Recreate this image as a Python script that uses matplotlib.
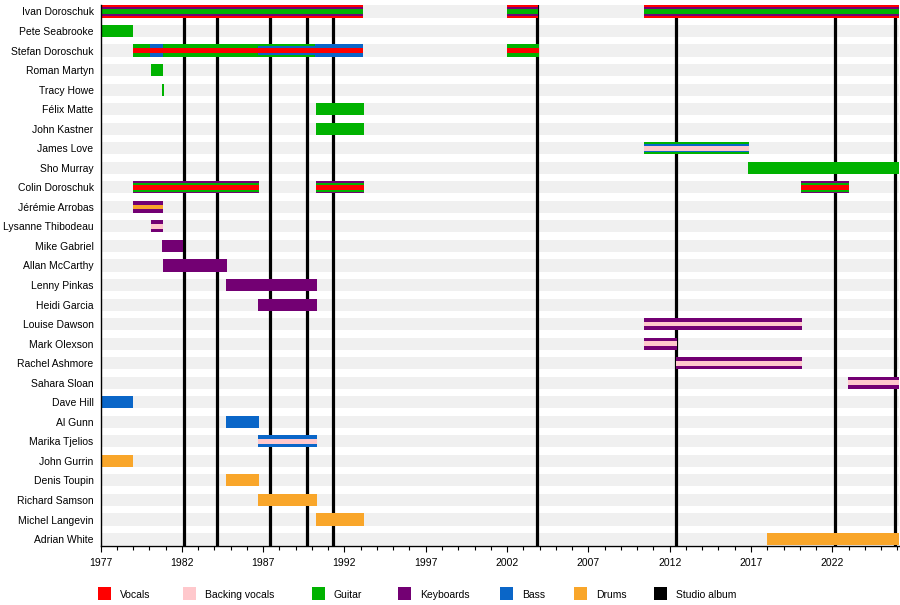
import matplotlib
matplotlib.use("Agg")
import matplotlib.pyplot as plt
from matplotlib.patches import Rectangle

plt.rcParams['font.family'] = ['Liberation Sans', 'DejaVu Sans']

members = ["Ivan Doroschuk", "Pete Seabrooke", "Stefan Doroschuk", "Roman Martyn",
           "Tracy Howe", "Félix Matte", "John Kastner", "James Love", "Sho Murray",
           "Colin Doroschuk", "Jérémie Arrobas", "Lysanne Thibodeau", "Mike Gabriel",
           "Allan McCarthy", "Lenny Pinkas", "Heidi Garcia", "Louise Dawson",
           "Mark Olexson", "Rachel Ashmore", "Sahara Sloan", "Dave Hill", "Al Gunn",
           "Marika Tjelios", "John Gurrin", "Denis Toupin", "Richard Samson",
           "Michel Langevin", "Adrian White"]

start_year = 1977
end_year = 2026.1

VOC, BVOC, GTR, KEY, BASS, DRM = "Vocals", "Backing vocals", "Guitar", "Keyboards", "Bass", "Drums"

# membership periods (member, start, end, roles from outer to inner)
seg_member = ["Ivan Doroschuk", "Ivan Doroschuk", "Ivan Doroschuk",
              "Pete Seabrooke",
              "Stefan Doroschuk", "Stefan Doroschuk", "Stefan Doroschuk", "Stefan Doroschuk",
              "Stefan Doroschuk", "Stefan Doroschuk",
              "Roman Martyn", "Tracy Howe", "Félix Matte", "John Kastner",
              "James Love", "Sho Murray",
              "Colin Doroschuk", "Colin Doroschuk", "Colin Doroschuk",
              "Jérémie Arrobas", "Lysanne Thibodeau", "Mike Gabriel", "Allan McCarthy",
              "Lenny Pinkas", "Heidi Garcia", "Louise Dawson", "Mark Olexson",
              "Rachel Ashmore", "Sahara Sloan", "Dave Hill", "Al Gunn", "Marika Tjelios",
              "John Gurrin", "Denis Toupin", "Richard Samson", "Michel Langevin",
              "Adrian White"]
seg_start = [1977.0, 2002.0, 2010.42,
             1977.0,
             1979.0, 1980.05, 1980.86, 1986.7, 1990.2, 2002.0,
             1980.1, 1980.78, 1990.24, 1990.24,
             2010.42, 2016.82,
             1979.0, 1990.24, 2020.05,
             1979.0, 1980.1, 1980.78, 1980.84,
             1984.71, 1986.68, 2010.42, 2010.42,
             2012.37, 2022.94, 1977.0, 1984.71, 1986.68,
             1977.0, 1984.71, 1986.68, 1990.24,
             2018.0]
seg_end = [1993.15, 2003.9, end_year,
           1979.0,
           1980.05, 1980.86, 1986.7, 1990.2, 1993.15, 2003.95,
           1980.84, 1980.9, 1993.2, 1993.2,
           2016.86, end_year,
           1986.74, 1993.18, 2023.0,
           1980.84, 1980.84, 1982.07, 1984.77,
           1990.3, 1990.3, 2020.12, 2012.43,
           2020.12, end_year, 1979.0, 1986.74, 1990.3,
           1979.0, 1986.74, 1990.3, 1993.2,
           end_year]
seg_roles = [(VOC, KEY, GTR), (VOC, KEY, GTR), (VOC, KEY, GTR),
             (GTR,),
             (GTR, VOC), (BASS, VOC), (GTR, VOC), (GTR, BASS, VOC), (BASS, VOC), (GTR, VOC),
             (GTR,), (GTR,), (GTR,), (GTR,),
             (GTR, BASS, BVOC), (GTR,),
             (KEY, GTR, VOC), (KEY, GTR, VOC), (KEY, GTR, VOC),
             (KEY, DRM), (KEY, BVOC), (KEY,), (KEY,),
             (KEY,), (KEY,), (KEY, BVOC), (KEY, BVOC),
             (KEY, BVOC), (KEY, BVOC), (BASS,), (BASS,), (BASS, BVOC),
             (DRM,), (DRM,), (DRM,), (DRM,),
             (DRM,)]

albums = [1982.13, 1984.14, 1987.42, 1989.71, 1991.31, 2003.85, 2012.37, 2022.16, 2025.88]

legend_labels = [VOC, BVOC, GTR, KEY, BASS, DRM, "Studio album"]
colors = {VOC: "#ff0000", BVOC: "#ffc8cc", GTR: "#00b200", KEY: "#730073",
          BASS: "#0a66c8", DRM: "#f9a62a", "Studio album": "#000000"}

layer_heights = {1: [0.62], 2: [0.62, 0.24], 3: [0.62, 0.43, 0.27]}

W, H = 900, 605
fig = plt.figure(figsize=(W / 100, H / 100), dpi=100)
ax = fig.add_axes([100.5 / W, 1 - 545.5 / H, (899 - 100.5) / W, (545.5 - 5) / H])

n = len(members)
ypos = {m: i for i, m in enumerate(members)}

# background stripes
ax.barh(range(n), end_year - start_year, left=start_year, height=0.62,
        color="#f0f0f0", zorder=0)

# studio albums
for a in albums:
    ax.axvline(a, color="black", lw=2.3, zorder=1)

# bars
for m, s, e, roles in zip(seg_member, seg_start, seg_end, seg_roles):
    hs = layer_heights[len(roles)]
    for i, r in enumerate(roles):
        ax.barh(ypos[m], e - s, left=s, height=hs[i], color=colors[r],
                zorder=2 + i, linewidth=0)

ax.set_xlim(start_year, end_year)
ax.set_ylim(n - 1 + 0.33, -0.33)
ax.set_yticks(range(n))
ax.set_yticklabels(members, fontsize=7.5)
ax.tick_params(axis='y', length=0, pad=5)

ax.set_xticks(range(1977, 2026, 5))
ax.set_xticks(range(1977, 2027), minor=True)
ax.tick_params(axis='x', which='major', length=4, width=0.8, labelsize=7.5, pad=5)
ax.tick_params(axis='x', which='minor', length=3, width=0.8)

for sp in ["top", "right"]:
    ax.spines[sp].set_visible(False)
for sp in ["left", "bottom"]:
    ax.spines[sp].set_linewidth(1.0)
    ax.spines[sp].set_zorder(10)

# legend
leg_x = [98, 183, 312, 398, 500, 574, 654]
for lx, lab in zip(leg_x, legend_labels):
    fig.add_artist(Rectangle((lx / W, 1 - 600 / H), 12.5 / W, 13 / H,
                             transform=fig.transFigure, color=colors[lab], lw=0))
    fig.text((lx + 22) / W, 1 - 595 / H, lab, fontsize=7.5, va="center", ha="left")

fig.savefig("out.png", dpi=100)
